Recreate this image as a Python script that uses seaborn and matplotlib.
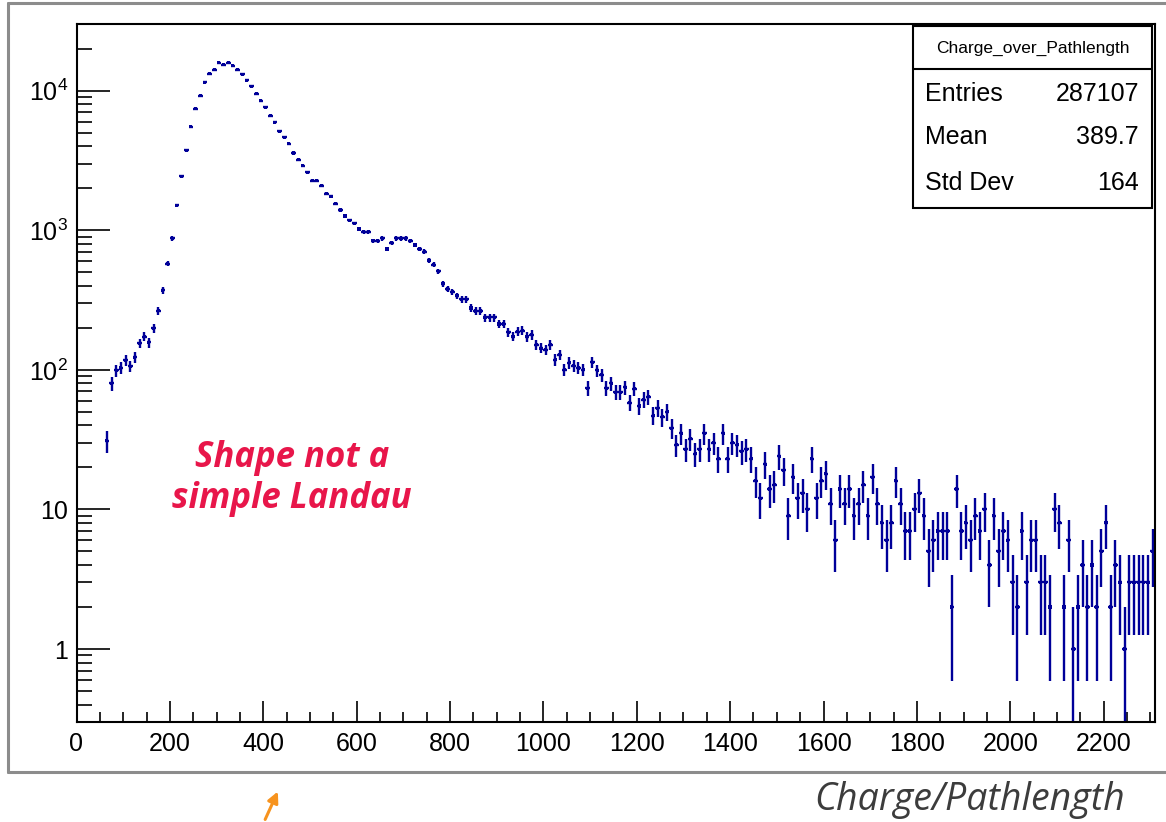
import numpy as np
import pandas as pd
import matplotlib
matplotlib.use("Agg")
import matplotlib.pyplot as plt
import seaborn as sns
from matplotlib.ticker import FixedLocator, MultipleLocator, NullFormatter, LogLocator
from matplotlib.patches import Rectangle, FancyArrowPatch
from matplotlib.lines import Line2D

# Histogram binning: 231 bins of width 10 on [0, 2310]
bin_width = 10
x_min, x_max = 0, 2310
first_filled_bin = 6  # bins below this index are empty

# Bin contents from bin 6 (center 65) to bin 230 (center 2305)
counts = [
    31, 80, 99, 103, 117, 106, 123, 155, 173, 157, 199, 265,
    370, 575, 873, 1506, 2433, 3734, 5495, 7396, 9204, 11480, 13240, 14150,
    15800, 15360, 15800, 15110, 14150, 13090, 11860, 10740, 9510, 8475, 7590, 6620,
    5930, 5110, 4630, 4150, 3575, 3200, 2897, 2594, 2264, 2264, 2085, 1828,
    1748, 1548, 1396, 1265, 1176, 1120, 1020, 975, 975, 842, 842, 873,
    733, 813, 873, 873, 873, 842, 783, 733, 701, 608, 566, 507,
    413, 379, 362, 339, 319, 319, 277, 264, 264, 237, 237, 237,
    213, 213, 186, 173, 188, 191, 172, 178, 151, 143, 139, 151,
    118, 128, 100, 112, 107, 103, 100, 74, 113, 99, 92, 74,
    80, 69, 69, 75, 58, 73, 55, 61, 64, 47, 53, 46,
    50, 38, 29, 35, 27, 32, 25, 27, 35, 27, 30, 23,
    35, 23, 30, 29, 26, 27, 23, 16, 12, 21, 14, 15,
    24, 19, 9, 17, 12, 13, 10, 23, 12, 16, 18, 11,
    6, 14, 11, 14, 9, 11, 15, 9, 17, 11, 8, 6,
    8, 16, 11, 7, 7, 10, 13, 9, 5, 6, 7, 7,
    7, 2, 14, 7, 8, 6, 9, 7, 10, 4, 9, 5,
    7, 6, 3, 2, 7, 3, 6, 6, 3, 3, 2, 10,
    8, 2, 6, 1, 2, 4, 2, 4, 2, 5, 8, 2,
    4, 3, 1, 3, 3, 3, 3, 3, 5,
]

stats_title = "Charge_over_Pathlength"
stats_labels = ["Entries", "Mean", "Std Dev"]
stats_values = ["287107", "389.7", "164"]

x_ticks = list(range(0, 2201, 200))
y_ticks = [1, 10, 100, 1000, 10000]
y_tick_labels = ["1", "10", r"$10^{2}$", r"$10^{3}$", r"$10^{4}$"]

annotation_lines = ["Shape not a", "simple Landau"]
axis_title = "Charge/Pathlength"

sns.set_theme(style="ticks")
plt.rcParams["font.family"] = ["Liberation Sans", "DejaVu Sans"]
plt.rcParams["mathtext.fontset"] = "custom"
plt.rcParams["mathtext.rm"] = "Liberation Sans"
plt.rcParams["mathtext.default"] = "regular"

W, H = 1166, 822
fig = plt.figure(figsize=(W / 100, H / 100), dpi=100)
fig.patch.set_facecolor("white")


def fx(px):
    return px / W


def fy(py):
    return 1 - py / H


ax = fig.add_axes([fx(76.5), fy(722), fx(1155) - fx(76.5), fy(24) - fy(722)])
ax.set_facecolor("white")

idx = np.arange(first_filled_bin, first_filled_bin + len(counts))
df = pd.DataFrame({
    "center": x_min + (idx + 0.5) * bin_width,
    "count": np.asarray(counts, dtype=float),
})
err_hi = np.sqrt(df["count"])
err_lo = np.minimum(err_hi, df["count"] * 0.999)

navy = "#000099"
ax.errorbar(df["center"], df["count"], xerr=bin_width / 2, yerr=[err_lo, err_hi],
            fmt="none", ecolor=navy, elinewidth=1.7, capsize=0)
sns.scatterplot(data=df, x="center", y="count", ax=ax, color=navy, s=5,
                marker="s", edgecolor="none", legend=False)

ax.set_yscale("log")
ax.set_xlim(x_min, x_max)
ax.set_ylim(0.3, 3.0e4)
ax.set_xlabel("")
ax.set_ylabel("")

ax.xaxis.set_major_locator(FixedLocator(x_ticks))
ax.xaxis.set_minor_locator(MultipleLocator(50))
ax.yaxis.set_major_locator(FixedLocator(y_ticks))
ax.yaxis.set_minor_locator(LogLocator(base=10, subs=np.arange(2, 10)))
ax.yaxis.set_minor_formatter(NullFormatter())
ax.set_yticklabels(y_tick_labels)

ax.tick_params(axis="both", which="both", direction="in", color="black",
               top=False, right=False, labelsize=18, labelcolor="black")
ax.tick_params(axis="x", which="major", length=15, width=1.2, pad=7)
ax.tick_params(axis="x", which="minor", length=7.5, width=1.2)
ax.tick_params(axis="y", which="major", length=24, width=1.2, pad=6)
ax.tick_params(axis="y", which="minor", length=11, width=1.2)
for side in ["left", "bottom", "top", "right"]:
    ax.spines[side].set_visible(True)
    ax.spines[side].set_color("black")
    ax.spines[side].set_linewidth(1.5)

# Statistics box
box_l, box_r, box_t, box_b, box_div = 913, 1152, 26, 208, 69
fig.add_artist(Rectangle((fx(box_l), fy(box_b)), fx(box_r) - fx(box_l), fy(box_t) - fy(box_b),
                         transform=fig.transFigure, facecolor="white", edgecolor="black",
                         linewidth=1.5, zorder=5))
fig.add_artist(Line2D([fx(box_l), fx(box_r)], [fy(box_div), fy(box_div)],
                      transform=fig.transFigure, color="black", linewidth=1.5, zorder=6))
fig.text(fx((box_l + box_r) / 2), fy(48), stats_title, ha="center", va="center",
         fontsize=12.5, color="black", zorder=7)
for row_y, lab, val in zip([94, 137, 183], stats_labels, stats_values):
    fig.text(fx(925), fy(row_y), lab, ha="left", va="center", fontsize=18, color="black", zorder=7)
    fig.text(fx(1139), fy(row_y), val, ha="right", va="center", fontsize=18, color="black", zorder=7)

# Annotation
for row_y, line in zip([458, 499], annotation_lines):
    fig.text(fx(292), fy(row_y), line, ha="center", va="center", fontsize=25,
             fontweight="bold", fontstyle="italic", color="#e8164a",
             family=["Open Sans", "DejaVu Sans"])

# Canvas border
border = "#8c8c8c"
for xs, ys in [([8, 8], [3, 772]), ([8, 1166], [772, 772]), ([8, 1166], [3, 3])]:
    fig.add_artist(Line2D([fx(v) for v in xs], [fy(v) for v in ys],
                          transform=fig.transFigure, color=border, linewidth=2.2))

# Axis title below the canvas
fig.text(fx(1125), fy(800), axis_title, ha="right", va="center", fontsize=27,
         fontstyle="italic", fontweight="normal", color="#3c3c3c",
         family=["Open Sans", "DejaVu Sans"])

# Small pointer arrow
fig.add_artist(FancyArrowPatch((fx(264), fy(822)), (fx(279), fy(789)),
                               transform=fig.transFigure, arrowstyle="-|>",
                               mutation_scale=16, color="#f7931e", linewidth=2.2))

fig.savefig("out.png", dpi=100, facecolor="white")
